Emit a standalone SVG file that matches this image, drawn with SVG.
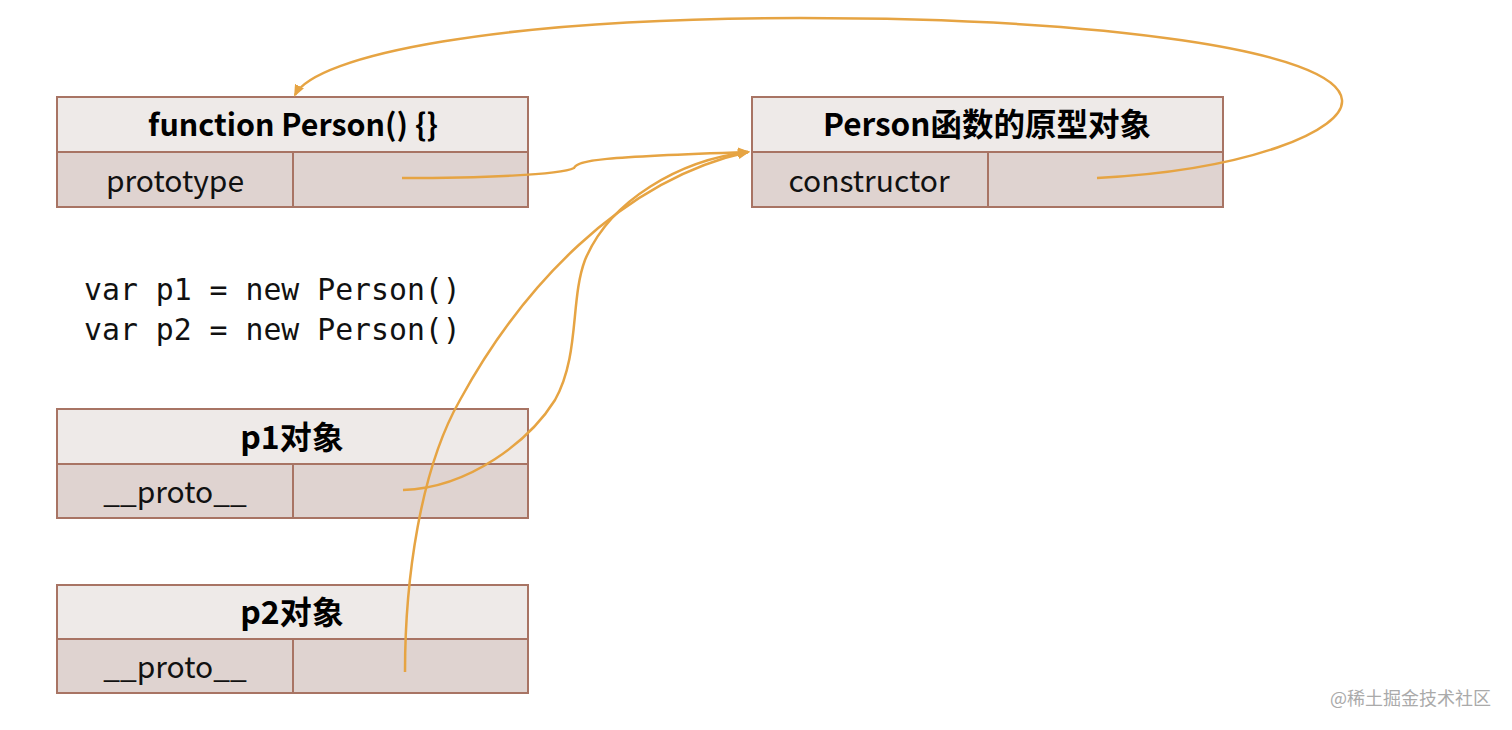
<svg xmlns="http://www.w3.org/2000/svg" width="1512" height="730" viewBox="0 0 1512 730">
<style>
.hd{fill:#EEEAE8;stroke:#A87464;stroke-width:2}
.rw{fill:#DFD3D0;stroke:#A87464;stroke-width:2}
.dv{stroke:#A87464;stroke-width:2}
.ht{font-family:"Noto Sans CJK SC","Liberation Sans",sans-serif;font-weight:bold;font-size:30.4px;fill:#000;text-anchor:middle}
.rt{font-family:"Noto Sans CJK SC","Open Sans",sans-serif;font-size:30px;fill:#111;text-anchor:middle}
.code{font-family:"DejaVu Sans Mono","Liberation Mono",monospace;font-size:29.8px;fill:#111}
.ln{fill:none;stroke:#E6A443;stroke-width:2.5}
.wm{font-family:"Noto Sans CJK SC",sans-serif;font-size:18px;fill:#AAAAAA}
</style>
<defs>
<marker id="ah" markerWidth="12" markerHeight="10" refX="10" refY="5" orient="auto" markerUnits="userSpaceOnUse">
<path d="M0,0 L12,5 L0,10 z" fill="#E6A443"/>
</marker>
</defs>
<rect width="1512" height="730" fill="#FFFFFF"/>
<g id="person-fn">
<rect class="hd" x="57" y="97" width="471" height="55"/>
<rect class="rw" x="57" y="152" width="471" height="55"/>
<line class="dv" x1="293" y1="152" x2="293" y2="207"/>
<text class="ht" x="293" y="136">function Person() {}</text>
<text class="rt" x="175" y="192">prototype</text>
</g>
<g id="person-proto">
<rect class="hd" x="752" y="97" width="471" height="55"/>
<rect class="rw" x="752" y="152" width="471" height="55"/>
<line class="dv" x1="988" y1="152" x2="988" y2="207"/>
<text class="ht" x="987" y="136" style="font-size:31.5px">Person函数的原型对象</text>
<text class="rt" x="869" y="192">constructor</text>
</g>
<g id="code">
<text class="code" x="84" y="300">var p1 = new Person()</text>
<text class="code" x="84" y="340">var p2 = new Person()</text>
</g>
<g id="p1">
<rect class="hd" x="57" y="409" width="471" height="55"/>
<rect class="rw" x="57" y="464" width="471" height="54"/>
<line class="dv" x1="293" y1="464" x2="293" y2="518"/>
<text class="ht" x="292" y="449" style="font-size:32px">p1对象</text>
<text class="rt" x="175" y="503">__proto__</text>
</g>
<g id="p2">
<rect class="hd" x="57" y="585" width="471" height="54"/>
<rect class="rw" x="57" y="639" width="471" height="54"/>
<line class="dv" x1="293" y1="639" x2="293" y2="693"/>
<text class="ht" x="292" y="624" style="font-size:32px">p2对象</text>
<text class="rt" x="175" y="678">__proto__</text>
</g>
<g id="connectors">
<path class="ln" d="M402,178 C480,178 560,175 574,168 C578,160 600,157 748,152" marker-end="url(#ah)"/>
<path class="ln" d="M1097,178 C1250,170 1345,130 1342,100 C1338,50 1100,18 800,18 C500,18 315,55 295,95" marker-end="url(#ah)"/>
<path class="ln" d="M403,490 C470,488 530,440 555,400 C580,355 570,300 585,260 C610,200 680,160 748,152" marker-end="url(#ah)"/>
<path class="ln" d="M405,672 C405,580 420,470 460,400 C520,290 620,180 748,152" marker-end="url(#ah)"/>
</g>
<text class="wm" x="1330" y="705">@稀土掘金技术社区</text>
</svg>
